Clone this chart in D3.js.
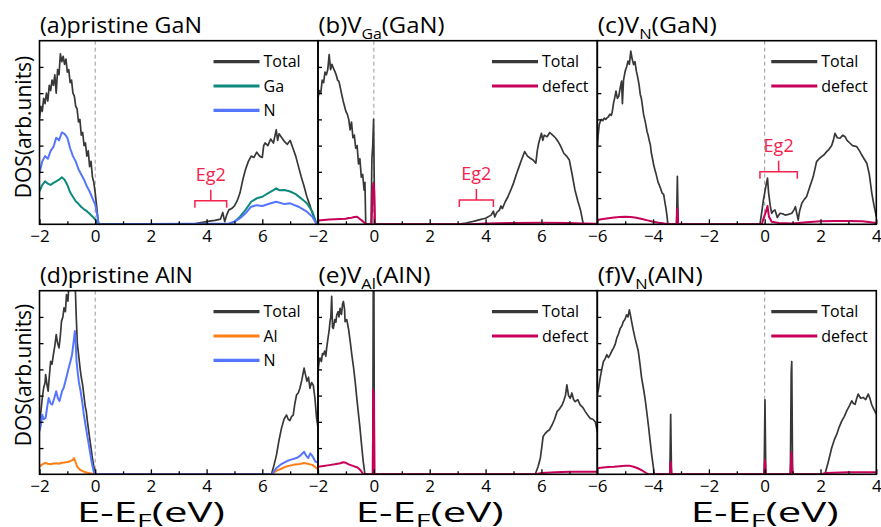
<!DOCTYPE html>
<html><head><meta charset="utf-8">
<script src="https://cdn.jsdelivr.net/npm/d3@7"></script>
<style>body{margin:0;background:#fff} text{font-family:"Open Sans","Noto Sans",sans-serif;fill:#000}</style>
</head><body><svg id="c" width="881" height="527"></svg>
<script>
// ---------- tick labels ----------
const ticksGaN = [-2, 0, 2, 4, 6];
const ticksDef = [-6, -4, -2, 0, 2, 4];
const minorGaN = [-1, 1, 3, 5, 7];
const minorDef = [-5, -3, -1, 1, 3];
const yTicks = [1, 2, 3, 4, 5, 6];

// ---------- (a) pristine GaN ----------
const aTotal = [[-2,4.05],[-1.95,4.5],[-1.9,4.3],[-1.85,4.8],[-1.8,4.6],[-1.75,5.0],[-1.7,4.7],[-1.65,5.3],[-1.6,5.1],[-1.55,5.5],[-1.5,5.3],[-1.45,5.7],[-1.4,5.0],[-1.35,5.9],[-1.3,5.7],[-1.25,6.5],[-1.2,6.2],[-1.15,6.4],[-1.1,6.1],[-1.05,6.3],[-1.0,5.8],[-0.95,5.9],[-0.9,5.4],[-0.85,5.5],[-0.8,5.0],[-0.75,4.9],[-0.7,4.5],[-0.65,4.4],[-0.6,3.9],[-0.55,4.0],[-0.5,3.4],[-0.45,3.5],[-0.4,3.0],[-0.35,3.1],[-0.3,2.6],[-0.25,2.8],[-0.2,2.2],[-0.15,2.4],[-0.1,1.8],[-0.05,1.6],[0,1.2],[0.05,0.7],[0.1,0.2],[0.13,0],
 [3.5,0],[3.7,0.05],[3.9,0.08],[4.1,0.12],[4.3,0.15],[4.5,0.2],[4.58,0.45],[4.65,0.1],[4.72,0.35],[4.8,0.55],[4.9,0.6],[5.0,0.7],[5.1,0.9],[5.2,1.2],[5.3,1.7],[5.4,2.1],[5.5,2.4],[5.6,2.6],[5.7,2.55],[5.8,2.75],[5.9,2.6],[6.0,2.55],[6.05,3.0],[6.1,3.1],[6.2,3.0],[6.3,3.25],[6.4,3.1],[6.5,3.6],[6.55,3.2],[6.6,3.45],[6.7,3.3],[6.8,3.15],[6.9,3.05],[7.0,3.2],[7.1,2.9],[7.2,2.6],[7.3,2.2],[7.4,1.8],[7.5,1.45],[7.6,1.05],[7.7,0.75],[7.8,0.42],[7.9,0.15],[7.95,0],[8,0]];
const aGa = [[-2,1.26],[-1.9,1.5],[-1.8,1.64],[-1.7,1.55],[-1.6,1.5],[-1.5,1.58],[-1.4,1.64],[-1.3,1.7],[-1.2,1.79],[-1.1,1.7],[-1.0,1.5],[-0.9,1.22],[-0.8,1.05],[-0.7,0.88],[-0.6,0.78],[-0.5,0.66],[-0.4,0.57],[-0.3,0.5],[-0.2,0.4],[-0.1,0.3],[0,0.18],[0.1,0],
 [4.8,0],[5.0,0.1],[5.2,0.29],[5.4,0.55],[5.6,0.86],[5.8,0.99],[6.0,1.05],[6.2,1.18],[6.4,1.3],[6.5,1.37],[6.6,1.3],[6.8,1.31],[7.0,1.25],[7.2,1.15],[7.4,0.98],[7.6,0.8],[7.8,0.48],[7.95,0],[8,0]];
const aN = [[-2,1.96],[-1.9,2.4],[-1.8,2.6],[-1.7,2.5],[-1.6,2.8],[-1.5,2.95],[-1.4,3.3],[-1.3,3.2],[-1.2,3.5],[-1.1,3.45],[-1.0,3.3],[-0.9,2.9],[-0.8,2.6],[-0.7,2.4],[-0.6,2.1],[-0.5,1.9],[-0.4,1.7],[-0.3,1.45],[-0.2,1.25],[-0.1,1.0],[0,0.75],[0.07,0.37],[0.12,0],
 [4.8,0.03],[5.0,0.1],[5.2,0.23],[5.4,0.42],[5.6,0.67],[5.8,0.73],[6.0,0.7],[6.3,0.8],[6.5,0.86],[6.8,0.77],[7.0,0.8],[7.3,0.67],[7.6,0.48],[7.8,0.29],[7.95,0],[8,0]];

// ---------- (b) V_Ga(GaN) ----------
const bTotal = [[-2,4.82],[-1.95,5.1],[-1.9,5.0],[-1.85,5.5],[-1.8,5.4],[-1.75,5.8],[-1.7,5.7],[-1.65,5.9],[-1.6,6.47],[-1.55,5.9],[-1.5,6.1],[-1.45,5.95],[-1.4,5.84],[-1.35,5.7],[-1.3,5.5],[-1.25,5.45],[-1.2,5.2],[-1.15,4.95],[-1.1,4.7],[-1.05,4.5],[-1.0,4.3],[-0.95,4.2],[-0.9,4.0],[-0.85,3.6],[-0.8,3.9],[-0.75,3.3],[-0.7,3.4],[-0.65,2.9],[-0.6,3.0],[-0.55,2.3],[-0.5,2.5],[-0.45,1.8],[-0.4,1.9],[-0.35,1.3],[-0.32,1.6],[-0.29,0],
 [-0.1,0],[-0.07,2.5],[-0.04,3.0],[-0.01,4.0],[0.03,0],
 [3.0,0],[3.3,0.05],[3.6,0.12],[3.8,0.18],[4.0,0.23],[4.2,0.35],[4.28,0.5],[4.33,0.28],[4.4,0.45],[4.5,0.55],[4.55,0.7],[4.6,0.6],[4.7,0.85],[4.8,1.05],[4.9,1.3],[5.0,1.57],[5.1,1.9],[5.2,2.2],[5.3,2.5],[5.4,2.77],[5.5,2.6],[5.6,2.52],[5.7,2.45],[5.8,2.33],[5.85,2.8],[5.9,3.09],[6.0,3.47],[6.05,3.2],[6.1,3.4],[6.2,3.34],[6.3,3.5],[6.4,3.4],[6.5,3.3],[6.6,3.15],[6.7,2.95],[6.8,2.71],[6.9,2.6],[7.0,2.45],[7.1,1.9],[7.2,1.31],[7.3,0.9],[7.4,0.54],[7.5,0],[8,0]];
const bDefect = [[-2,0.14],[-1.8,0.16],[-1.6,0.18],[-1.4,0.19],[-1.2,0.2],[-1.0,0.21],[-0.9,0.24],[-0.8,0.25],[-0.7,0.28],[-0.6,0.29],[-0.5,0.2],[-0.4,0.12],[-0.3,0.02],[-0.28,0],
 [-0.08,0],[-0.05,1.2],[-0.02,1.57],[0.01,1.3],[0.04,0],
 [3.5,0],[4.0,0.03],[5.0,0.05],[6.0,0.06],[7.0,0.05],[7.5,0.03],[8,0.02]];

// ---------- (c) V_N(GaN) ----------
const cTotal = [[-6,2.9],[-5.97,3.4],[-5.93,3.8],[-5.9,3.9],[-5.85,4.0],[-5.8,3.95],[-5.75,4.05],[-5.7,4.0],[-5.65,4.06],[-5.6,4.1],[-5.55,4.2],[-5.5,4.15],[-5.47,4.25],[-5.42,4.6],[-5.38,4.8],[-5.33,5.08],[-5.28,4.8],[-5.23,4.89],[-5.18,5.2],[-5.13,5.46],[-5.1,4.6],[-5.06,5.5],[-5.0,5.84],[-4.95,6.0],[-4.9,6.22],[-4.85,6.1],[-4.8,6.6],[-4.75,6.3],[-4.7,6.09],[-4.65,6.2],[-4.6,5.84],[-4.55,5.6],[-4.5,5.3],[-4.46,4.95],[-4.42,4.8],[-4.38,4.5],[-4.34,4.18],[-4.3,4.0],[-4.26,3.8],[-4.22,3.55],[-4.18,3.4],[-4.14,3.2],[-4.1,3.04],[-4.06,2.7],[-4.02,2.5],[-3.98,2.27],[-3.94,2.1],[-3.9,1.95],[-3.86,1.77],[-3.82,1.6],[-3.78,1.5],[-3.74,1.39],[-3.68,1.2],[-3.62,1.13],[-3.57,0.8],[-3.54,0.62],[-3.5,0.3],[-3.47,0],
 [-3.16,0],[-3.13,1.83],[-3.1,0],
 [-0.17,0],[-0.1,0.5],[-0.05,0.9],[0,1.2],[0.05,1.5],[0.1,1.76],[0.14,1.2],[0.2,0.7],[0.25,0.42],[0.3,0.5],[0.37,0.55],[0.45,0.26],[0.55,0.42],[0.65,0.4],[0.73,0.35],[0.85,0.38],[0.97,0.42],[1.05,0.55],[1.1,0.67],[1.2,0.16],[1.25,0.5],[1.33,0.8],[1.42,0.95],[1.5,1.05],[1.62,1.44],[1.74,1.82],[1.86,2.39],[1.95,2.5],[2.04,2.58],[2.13,2.65],[2.22,2.77],[2.3,2.85],[2.4,3.0],[2.46,3.2],[2.52,3.47],[2.6,3.3],[2.7,3.28],[2.8,3.4],[2.88,3.34],[2.95,3.2],[3.06,3.09],[3.15,3.0],[3.3,2.96],[3.4,2.8],[3.48,2.64],[3.56,2.5],[3.66,2.33],[3.75,1.9],[3.84,1.18],[3.92,0.7],[4.0,0.3]];
const cDefect = [[-6,0.16],[-5.8,0.2],[-5.6,0.23],[-5.4,0.26],[-5.2,0.28],[-5.0,0.29],[-4.8,0.28],[-4.6,0.25],[-4.4,0.2],[-4.2,0.15],[-4.0,0.1],[-3.8,0.06],[-3.6,0.03],[-3.4,0.01],[-3.2,0],
 [-3.16,0],[-3.13,0.61],[-3.1,0],
 [-0.1,0],[-0.05,0.2],[0.05,0.5],[0.1,0.7],[0.15,0.3],[0.25,0.1],[0.5,0.05],[1.0,0.03],[1.5,0.08],[2.0,0.12],[2.5,0.13],[3.0,0.13],[3.5,0.12],[3.8,0.08],[4.0,0.05]];

// ---------- (d) pristine AlN ----------
const dTotal = [[-2,1.89],[-1.95,2.4],[-1.9,2.91],[-1.85,3.3],[-1.8,3.5],[-1.78,3.8],[-1.73,3.4],[-1.69,3.17],[-1.65,3.7],[-1.6,4.31],[-1.55,4.2],[-1.5,4.57],[-1.45,4.9],[-1.4,5.33],[-1.35,5.0],[-1.3,4.82],[-1.25,5.3],[-1.21,5.84],[-1.16,6.0],[-1.12,6.35],[-1.07,6.2],[-1.03,6.85],[-0.98,6.6],[-0.95,7.1],[-0.9,7.4],[-0.85,7.2],[-0.8,7.6],[-0.75,7.5],[-0.72,7.3],[-0.68,6.0],[-0.64,4.95],[-0.6,4.6],[-0.56,4.2],[-0.53,3.93],[-0.5,3.7],[-0.45,3.4],[-0.41,3.04],[-0.36,2.6],[-0.32,2.4],[-0.28,2.02],[-0.24,1.7],[-0.2,1.39],[-0.15,1.0],[-0.1,0.62],[-0.05,0.3],[-0.01,0.11],[0.02,0],
 [6.33,0],[6.42,0.35],[6.51,0.74],[6.6,1.3],[6.69,1.76],[6.78,2.1],[6.87,2.26],[6.93,2.1],[6.99,2.05],[7.05,2.2],[7.11,2.26],[7.17,2.7],[7.23,3.03],[7.29,3.1],[7.35,3.28],[7.42,3.6],[7.5,4.05],[7.55,3.8],[7.6,3.55],[7.66,3.7],[7.71,3.28],[7.77,3.5],[7.83,3.4],[7.89,2.9],[7.95,2.13],[8,1.8]];
const dAl = [[-2,0.3],[-1.9,0.38],[-1.8,0.43],[-1.7,0.4],[-1.6,0.38],[-1.5,0.41],[-1.4,0.42],[-1.3,0.4],[-1.2,0.44],[-1.1,0.45],[-1.0,0.47],[-0.9,0.5],[-0.8,0.55],[-0.76,0.62],[-0.7,0.45],[-0.64,0.28],[-0.55,0.18],[-0.45,0.12],[-0.35,0.08],[-0.2,0.04],[-0.05,0.01],[0,0],
 [6.33,0],[6.5,0.13],[6.7,0.22],[6.87,0.3],[7.1,0.36],[7.35,0.39],[7.5,0.43],[7.7,0.38],[7.8,0.36],[7.95,0.23],[8,0.2]];
const dN = [[-2,1.64],[-1.95,1.9],[-1.9,2.27],[-1.85,2.1],[-1.78,2.15],[-1.72,2.6],[-1.67,2.91],[-1.6,2.7],[-1.54,2.66],[-1.47,2.9],[-1.4,3.17],[-1.34,2.9],[-1.28,2.79],[-1.23,3.0],[-1.19,3.17],[-1.13,3.3],[-1.07,3.55],[-1.01,3.8],[-0.95,4.06],[-0.89,4.3],[-0.83,4.57],[-0.78,5.0],[-0.73,5.46],[-0.7,5.0],[-0.67,4.31],[-0.63,3.9],[-0.59,3.55],[-0.53,3.2],[-0.47,2.79],[-0.41,2.3],[-0.35,1.89],[-0.29,1.5],[-0.23,1.13],[-0.17,0.75],[-0.11,0.37],[-0.05,0.1],[0,0],
 [6.33,0],[6.5,0.23],[6.7,0.4],[6.87,0.49],[7.0,0.55],[7.23,0.62],[7.35,0.7],[7.5,0.86],[7.58,0.7],[7.65,0.62],[7.72,0.8],[7.77,0.74],[7.85,0.6],[7.9,0.49],[8,0.45]];

// ---------- (e) V_Al(AlN) ----------
const eTotal = [[-2,3.92],[-1.96,4.3],[-1.93,4.43],[-1.88,4.3],[-1.84,4.6],[-1.81,4.56],[-1.76,4.7],[-1.72,4.5],[-1.69,4.81],[-1.64,5.2],[-1.6,5.5],[-1.57,5.82],[-1.54,6.0],[-1.51,6.78],[-1.48,5.6],[-1.45,5.56],[-1.4,5.9],[-1.36,5.8],[-1.33,6.07],[-1.28,6.2],[-1.25,6.0],[-1.21,6.33],[-1.16,6.1],[-1.12,6.5],[-1.09,6.59],[-1.05,6.3],[-1.03,5.82],[-0.97,5.9],[-0.91,5.56],[-0.85,5.1],[-0.79,4.56],[-0.73,4.1],[-0.67,3.54],[-0.62,3.0],[-0.56,2.39],[-0.5,1.8],[-0.44,1.12],[-0.38,0.48],[-0.32,0],
 [-0.04,0],[-0.02,8],[0,8],[0.02,0],
 [5.78,0],[5.88,0.3],[5.96,0.61],[6.02,1.1],[6.06,1.44],[6.13,1.55],[6.2,1.63],[6.29,1.7],[6.38,1.88],[6.47,2.1],[6.56,2.39],[6.65,2.5],[6.74,2.64],[6.8,2.8],[6.86,3.0],[6.91,3.41],[6.97,3.0],[7.03,2.9],[7.09,3.1],[7.15,2.85],[7.21,2.77],[7.3,2.85],[7.39,2.64],[7.48,2.55],[7.57,2.39],[7.66,2.25],[7.75,2.13],[7.84,2.1],[7.93,2.0],[8,1.63]];
const eDefect = [[-2,0.29],[-1.8,0.32],[-1.6,0.35],[-1.4,0.38],[-1.2,0.42],[-1.1,0.46],[-1.0,0.44],[-0.9,0.38],[-0.8,0.34],[-0.7,0.3],[-0.6,0.27],[-0.5,0.18],[-0.44,0.1],[-0.38,0],
 [-0.04,0],[-0.02,3.22],[0,3.0],[0.02,0],
 [5.8,0],[6.0,0.05],[6.5,0.08],[7.0,0.1],[7.5,0.1],[8,0.1]];

// ---------- (f) V_N(AlN) ----------
const fTotal = [[-6,3.03],[-5.95,3.3],[-5.9,3.66],[-5.84,4.0],[-5.78,4.3],[-5.72,4.4],[-5.66,4.56],[-5.6,4.45],[-5.54,4.56],[-5.48,4.7],[-5.42,4.81],[-5.36,4.95],[-5.3,5.2],[-5.24,5.35],[-5.18,5.56],[-5.12,5.65],[-5.07,5.82],[-5.01,5.9],[-4.95,6.08],[-4.9,6.0],[-4.85,6.27],[-4.8,6.0],[-4.77,5.82],[-4.71,5.5],[-4.65,5.2],[-4.59,4.95],[-4.53,4.69],[-4.47,4.2],[-4.41,3.66],[-4.35,3.3],[-4.29,2.9],[-4.23,2.4],[-4.17,1.88],[-4.11,1.3],[-4.05,0.74],[-4.0,0.35],[-3.97,0.1],[-3.95,0],
 [-3.4,0],[-3.37,2.29],[-3.34,0],
 [-0.02,0],[0.01,2.84],[0.04,0],
 [0.92,0],[0.95,3.9],[0.97,4.3],[1.0,0],
 [2.16,0],[2.28,0.48],[2.4,1.0],[2.49,1.3],[2.58,1.52],[2.67,1.8],[2.76,2.03],[2.85,2.2],[2.94,2.42],[3.03,2.6],[3.12,2.8],[3.18,2.7],[3.24,2.67],[3.3,2.9],[3.35,3.06],[3.44,2.9],[3.53,2.93],[3.62,2.85],[3.71,3.06],[3.77,2.9],[3.83,2.67],[3.9,2.5],[4.0,2.29]];
const fDefect = [[-6,0.23],[-5.8,0.26],[-5.6,0.28],[-5.4,0.29],[-5.2,0.31],[-5.0,0.33],[-4.85,0.33],[-4.7,0.29],[-4.55,0.23],[-4.4,0.15],[-4.25,0.05],[-4.17,0],
 [-3.4,0],[-3.37,0.48],[-3.34,0],
 [-0.02,0],[0.01,0.55],[0.04,0],
 [0.92,0],[0.96,0.84],[1.0,0],
 [2.0,0],[2.2,0.05],[3.0,0.08],[4.0,0.08]];

// ---------- Eg2 annotations [from, to, level] ----------
const eg2A = [3.58, 4.72, 0.9];
const eg2B = [3.06, 4.28, 0.93];
const eg2C = [-0.17, 1.17, 2.0];

const panels = [
  {title:[["(a)pristine GaN"]], tw:162, domain:[-2,8], ticks:ticksGaN, minor:minorGaN, series:[["Total",aTotal],["Ga",aGa],["N",aN]], eg2:eg2A},
  {title:[["(b)V"],["Ga","sub"],["(GaN)"]], tw:126, domain:[-2,8], ticks:ticksGaN, minor:minorGaN, series:[["Total",bTotal],["defect",bDefect]], eg2:eg2B},
  {title:[["(c)V"],["N","sub"],["(GaN)"]], tw:119, domain:[-6,4], ticks:ticksDef, minor:minorDef, series:[["Total",cTotal],["defect",cDefect]], eg2:eg2C},
  {title:[["(d)pristine AlN"]], tw:153, domain:[-2,8], ticks:ticksGaN, minor:minorGaN, series:[["Total",dTotal],["Al",dAl],["N",dN]], xlab:2},
  {title:[["(e)V"],["Al","sub"],["(AlN)"]], tw:112, domain:[-2,8], ticks:ticksGaN, minor:minorGaN, series:[["Total",eTotal],["defect",eDefect]], xlab:2},
  {title:[["(f)V"],["N","sub"],["(AlN)"]], tw:105, domain:[-6,4], ticks:ticksDef, minor:minorDef, series:[["Total",fTotal],["defect",fDefect]], xlab:0}
];

const colors = {Total:"#383838", Ga:"#0d8a7e", N:"#5675ff", Al:"#ff7f17", defect:"#c8005a"};
const widths = {Total:1.7, Ga:2, N:2, Al:2, defect:2};
const eg2Color = "#f5224d";
const cols = [[39.5,318],[318,597.3],[597.3,876.3]];
const rows = [[40.7,224.3],[290.7,474.3]];
const fmt = d => d < 0 ? "\u2212" + Math.abs(d) : String(d);

const svg = d3.select("#c");

function addText(parent, x, y, parts, size, subSize, subDy, anchor, target) {
  const g = parent.append("g");
  const t = g.append("text").attr("font-size", size).attr("text-anchor", anchor);
  let shifted = 0;
  parts.forEach(([s, kind]) => {
    const ts = t.append("tspan").text(s);
    if (kind === "sub") { ts.attr("font-size", subSize).attr("dy", subDy - shifted); shifted = subDy; }
    else if (shifted) { ts.attr("dy", -shifted); shifted = 0; }
  });
  const w = t.node().getBBox().width;
  const k = target ? target / w : 1;
  g.attr("transform", `translate(${x},${y}) scale(${k},1)`);
  return g;
}

panels.forEach((p, i) => {
  const [x0, x1] = cols[i % 3], [y0, y1] = rows[Math.floor(i / 3)];
  const x = d3.scaleLinear().domain(p.domain).range([x0, x1]);
  const y = d3.scaleLinear().domain([0, 7]).range([y1, y0]);
  const g = svg.append("g");
  const cid = "clip" + i;
  svg.append("clipPath").attr("id", cid).append("rect")
    .attr("x", x0).attr("y", y0).attr("width", x1 - x0).attr("height", y1 - y0);

  g.append("line").attr("x1", x(0)).attr("x2", x(0)).attr("y1", y0).attr("y2", y1)
    .attr("stroke", "#9a9a9a").attr("stroke-width", 1).attr("stroke-dasharray", "4,3");

  const line = d3.line().x(d => x(d[0])).y(d => y(d[1]));
  const lg = g.append("g").attr("clip-path", `url(#${cid})`);
  p.series.forEach(([name, data]) => {
    lg.append("path").datum(data).attr("d", line).attr("fill", "none")
      .attr("stroke", colors[name]).attr("stroke-width", widths[name]).attr("stroke-linejoin", "round");
  });

  const xa = g.append("g").attr("transform", `translate(0,${y1})`)
    .call(d3.axisBottom(x).tickValues(p.ticks).tickSize(-5).tickPadding(6).tickFormat(fmt));
  xa.select(".domain").remove();
  xa.selectAll("text").attr("font-size", 17);
  xa.selectAll("line").attr("stroke", "#000").attr("stroke-width", 1.3);
  xa.selectAll(".tick").filter(d => x(d) > x1 - 2 && i % 3 !== 2).remove();

  const xm = g.append("g").attr("transform", `translate(0,${y1})`)
    .call(d3.axisBottom(x).tickValues(p.minor).tickSize(-3).tickFormat(""));
  xm.select(".domain").remove();
  xm.selectAll("line").attr("stroke", "#000").attr("stroke-width", 1.3);

  const ya = g.append("g").attr("transform", `translate(${x0},0)`)
    .call(d3.axisLeft(y).tickValues(yTicks).tickSize(-4).tickFormat(""));
  ya.select(".domain").remove();
  ya.selectAll("line").attr("stroke", "#000").attr("stroke-width", 1.3);

  g.append("rect").attr("x", x0).attr("y", y0).attr("width", x1 - x0).attr("height", y1 - y0)
    .attr("fill", "none").attr("stroke", "#000").attr("stroke-width", 1.6);

  addText(g, x0 + 0.5, y0 - 8, p.title, 21, 14, 6, "start", p.tw);

  p.series.forEach(([name], j) => {
    const ly = y0 + 21 + j * 24.3;
    g.append("line").attr("x1", x0 + 174).attr("x2", x0 + 220).attr("y1", ly).attr("y2", ly)
      .attr("stroke", colors[name]).attr("stroke-width", 3.2);
    g.append("text").attr("x", x0 + 224).attr("y", ly).attr("dy", "0.35em")
      .attr("font-size", 16).text(name);
  });

  if (p.eg2) {
    const [ea, eb, lv] = p.eg2;
    const xa_ = x(ea), xb_ = x(eb), yy = y(lv), xm_ = (xa_ + xb_) / 2;
    g.append("path").attr("d", `M${xa_},${yy + 7}V${yy}H${xb_}V${yy + 7}M${xm_},${yy}V${yy - 11}`)
      .attr("fill", "none").attr("stroke", eg2Color).attr("stroke-width", 1.5);
    g.append("text").attr("x", xm_).attr("y", yy - 20).attr("text-anchor", "middle")
      .attr("font-size", 18).style("fill", eg2Color).text("Eg2");
  }

  if (p.xlab !== undefined) {
    addText(g, x(p.xlab), 522, [["E-E"], ["F", "sub"], ["(eV)"]], 28, 19, 5, "middle", 148);
  }
});

[127, 375].forEach(cy => {
  svg.append("text").attr("transform", `translate(31,${cy}) rotate(-90)`)
    .attr("text-anchor", "middle").attr("font-size", 21).text("DOS(arb.units)");
});
</script></body></html>
